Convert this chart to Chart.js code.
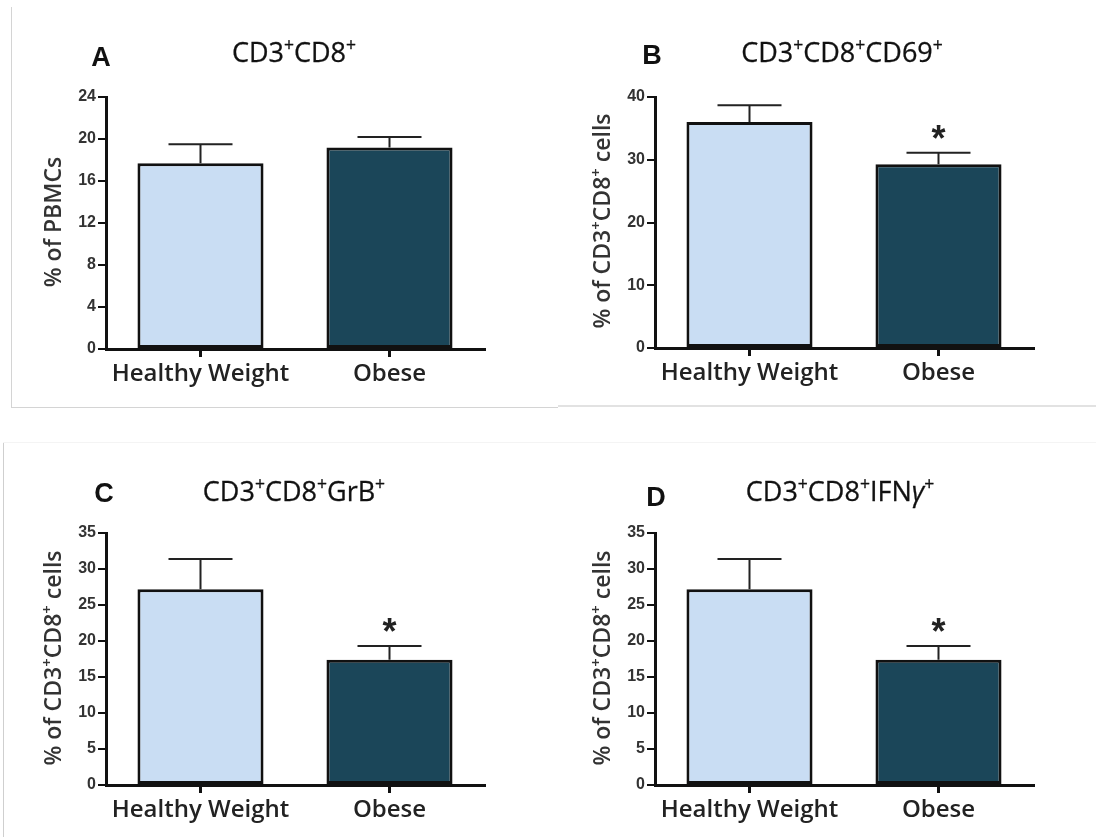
<!DOCTYPE html>
<html><head><meta charset="utf-8">
<script src="https://cdn.jsdelivr.net/npm/chart.js@4.4.1/dist/chart.umd.min.js"></script>
<style>
html,body{margin:0;padding:0;background:#fff;}
#wrap{position:relative;width:1096px;height:837px;overflow:hidden;background:#fff;}
canvas{position:absolute;}
.t{position:absolute;white-space:nowrap;line-height:1;}
.title{font-family:'Open Sans';font-size:27px;color:#111;transform:translateX(-50%);-webkit-text-stroke:0.3px #111;}
.letter{font-family:'Liberation Sans';font-weight:bold;font-size:27px;color:#111;transform:translateX(-50%);}
.ylab{font-family:'Open Sans';font-weight:600;font-size:23px;color:#333;transform:translate(-50%,-50%) rotate(-90deg);}
sup{font-size:65%;line-height:0;vertical-align:0.6em;}
.ln{position:absolute;}
</style></head>
<body><div id="wrap">
<div class="ln" style="left:11px;top:7px;width:1px;height:400px;background:#d4d4d4"></div>
<div class="ln" style="left:11px;top:407px;width:547px;height:1px;background:#d4d4d4"></div>
<div class="ln" style="left:558px;top:405px;width:538px;height:2px;background:#e2e2e2"></div>
<div class="ln" style="left:3px;top:442px;width:1px;height:395px;background:#cfcfcf"></div>
<div class="ln" style="left:3px;top:442px;width:1093px;height:1px;background:#f4f4f4"></div>

<canvas id="cA" width="548" height="400" style="left:0;top:0"></canvas>
<canvas id="cB" width="548" height="400" style="left:548px;top:0"></canvas>
<canvas id="cC" width="548" height="417" style="left:0;top:420px"></canvas>
<canvas id="cD" width="548" height="417" style="left:548px;top:420px"></canvas>

<div class="t letter" style="left:101px;top:43.5px">A</div>
<div class="t letter" style="left:652px;top:41.5px">B</div>
<div class="t letter" style="left:104px;top:479.5px">C</div>
<div class="t letter" style="left:656px;top:483.5px">D</div>

<div class="t title" style="left:294px;top:38px">CD3<sup>+</sup>CD8<sup>+</sup></div>
<div class="t title" style="left:842px;top:38px">CD3<sup>+</sup>CD8<sup>+</sup>CD69<sup>+</sup></div>
<div class="t title" style="left:294px;top:477px">CD3<sup>+</sup>CD8<sup>+</sup>GrB<sup>+</sup></div>
<div class="t title" style="left:840px;top:477px">CD3<sup>+</sup>CD8<sup>+</sup>IFN<i>γ</i><sup>+</sup></div>

<div class="t ylab" style="left:52px;top:222px">% of PBMCs</div>
<div class="t ylab" style="left:601px;top:221px">% of CD3<sup>+</sup>CD8<sup>+</sup> cells</div>
<div class="t ylab" style="left:52px;top:658px">% of CD3<sup>+</sup>CD8<sup>+</sup> cells</div>
<div class="t ylab" style="left:601px;top:658px">% of CD3<sup>+</sup>CD8<sup>+</sup> cells</div>
</div>
<script>
const categories = ['Healthy Weight', 'Obese'];
const barColors = ['#C9DDF3', '#1B4659'];

const meanA = [17.7, 19.2];
const semA  = [1.8, 1.0];
const sigA  = ['', ''];
const yTicksA = [0, 4, 8, 12, 16, 20, 24];

const meanB = [36.0, 29.3];
const semB  = [2.7, 1.8];
const sigB  = ['', '*'];
const yTicksB = [0, 10, 20, 30, 40];

const meanC = [27.2, 17.4];
const semC  = [4.2, 1.9];
const sigC  = ['', '*'];
const yTicksC = [0, 5, 10, 15, 20, 25, 30, 35];

const meanD = [27.2, 17.4];
const semD  = [4.2, 1.9];
const sigD  = ['', '*'];
const yTicksD = [0, 5, 10, 15, 20, 25, 30, 35];

const errPlugin = {
  id: 'errbars',
  afterDatasetsDraw(chart, args, opts) {
    const ctx = chart.ctx;
    const ys = chart.scales.y;
    const meta = chart.getDatasetMeta(0);
    ctx.save();
    meta.data.forEach((bar, i) => {
      const x = bar.x;
      const y0 = ys.getPixelForValue(opts.mean[i]);
      const y1 = ys.getPixelForValue(opts.mean[i] + opts.sem[i]);
      ctx.strokeStyle = '#222';
      ctx.lineWidth = 2;
      ctx.beginPath();
      ctx.moveTo(x, y0);
      ctx.lineTo(x, y1);
      ctx.moveTo(x - 32, y1);
      ctx.lineTo(x + 32, y1);
      ctx.stroke();
      if (opts.sig[i]) {
        ctx.font = 'bold 36px "Liberation Sans"';
        ctx.fillStyle = '#222';
        ctx.textAlign = 'center';
        ctx.textBaseline = 'alphabetic';
        const m = ctx.measureText(opts.sig[i]);
        const cy = y1 - 21;
        ctx.fillText(opts.sig[i], x, cy + (m.actualBoundingBoxAscent - m.actualBoundingBoxDescent) / 2);
      }
    });
    ctx.restore();
  }
};

function makePanel(id, w, h, area, means, sems, sigs, yTicks) {
  new Chart(document.getElementById(id), {
    type: 'bar',
    data: {
      labels: categories,
      datasets: [{
        data: means,
        backgroundColor: barColors,
        borderColor: '#111',
        borderWidth: 3,
        borderSkipped: false,
        barPercentage: 0.667,
        categoryPercentage: 1
      }]
    },
    options: {
      responsive: false,
      animation: false,
      devicePixelRatio: 1,
      layout: { padding: { left: 0, top: area.t, right: w - area.r, bottom: 0 } },
      plugins: {
        legend: { display: false },
        tooltip: { enabled: false },
        errbars: { mean: means, sem: sems, sig: sigs }
      },
      scales: {
        x: {
          type: 'category',
          offset: true,
          ticks: { font: { family: 'Open Sans', weight: '600', size: 24 }, color: '#222', padding: 3, maxRotation: 0, autoSkip: false },
          grid: { drawOnChartArea: false, drawTicks: true, tickLength: 8, offset: false, color: '#111', lineWidth: 3 },
          border: { display: true, color: '#111', width: 3 },
          afterFit: s => { s.height = h - area.b; }
        },
        y: {
          min: 0,
          max: yTicks[yTicks.length - 1],
          afterBuildTicks: s => { s.ticks = yTicks.map(v => ({ value: v })); },
          ticks: { font: { family: 'Liberation Sans', weight: 'bold', size: 16 }, color: '#333', padding: 2 },
          grid: { drawOnChartArea: false, drawTicks: true, tickLength: 8, color: '#111', lineWidth: 2 },
          border: { display: true, color: '#111', width: 3 },
          afterFit: s => { s.width = area.l; }
        }
      }
    },
    plugins: [errPlugin]
  });
}

makePanel('cA', 548, 400, { l: 106, r: 484, t: 97, b: 349 }, meanA, semA, sigA, yTicksA);
makePanel('cB', 548, 400, { l: 107, r: 485, t: 97, b: 348 }, meanB, semB, sigB, yTicksB);
makePanel('cC', 548, 417, { l: 106, r: 484, t: 113, b: 365 }, meanC, semC, sigC, yTicksC);
makePanel('cD', 548, 417, { l: 107, r: 485, t: 113, b: 365 }, meanD, semD, sigD, yTicksD);
</script>
</body></html>
